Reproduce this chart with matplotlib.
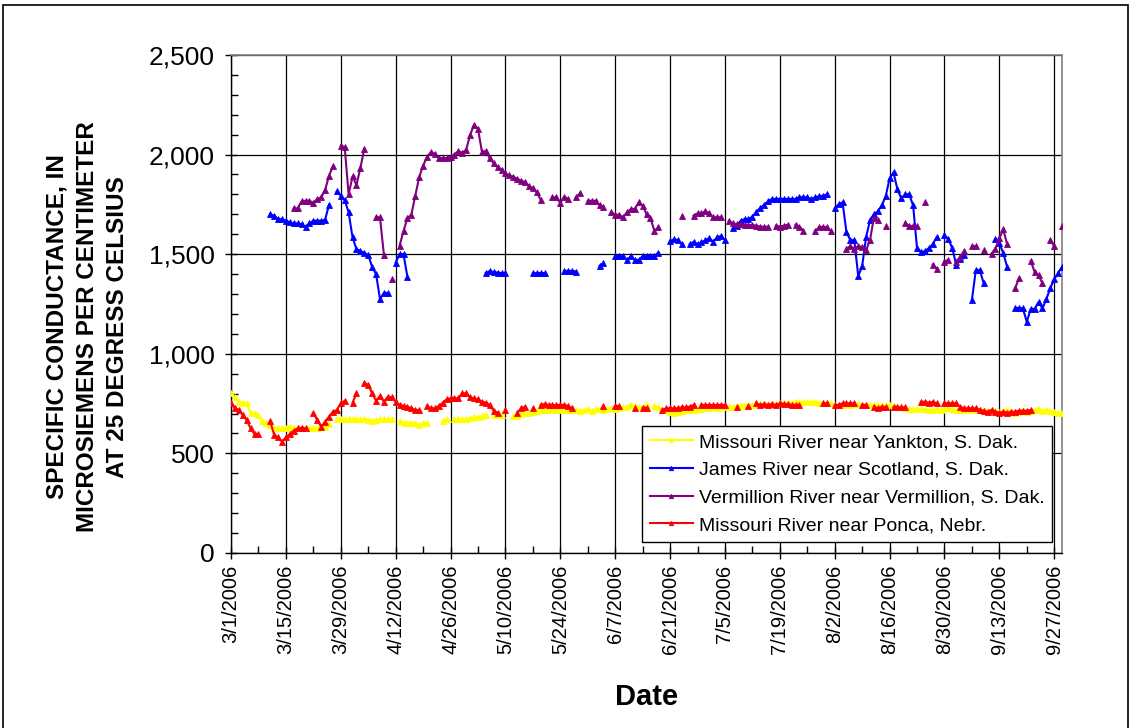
import numpy as np
import pandas as pd
import matplotlib
matplotlib.use("Agg")
import matplotlib.pyplot as plt
from matplotlib.ticker import FuncFormatter, MultipleLocator
from matplotlib.patches import Rectangle

plt.rcParams['font.family'] = ['Liberation Sans', 'DejaVu Sans']

N = None
# Daily specific conductance, 3/1/2006 through 9/29/2006 (one row per week)
yankton = [
    801, 784, 759, 754, 754, 701, 701,
    692, 665, 655, 640, 625, 625, 625,
    625, 634, 629, 625, 625, 625, 625,
    625, 625, 634, 634, 645, N, 671,
    671, 671, 671, 671, 671, 671, 671,
    668, 664, 668, 671, 671, 671, 671,
    N, 662, 654, 654, 654, 651, 642,
    651, 654, N, N, N, 662, 671,
    N, 671, 671, 671, 671, 676, 681,
    681, 687, 692, N, 692, 692, 692,
    N, N, 687, 690, 697, 701, 704,
    709, 714, 718, 718, 718, 718, 718,
    718, 718, 718, 718, 718, 714, 718,
    721, 714, 721, 721, 718, 721, 726,
    721, 726, 731, 734, 743, 738, 734,
    734, 743, N, 738, 731, 718, 718,
    710, 704, 709, 714, 718, 718, 718,
    721, 721, 726, 726, 731, 726, 731,
    734, 734, 734, 738, 738, 743, 743,
    745, 748, 746, 748, 748, 748, 748,
    751, 754, 754, 754, 759, 759, 759,
    759, 759, 759, 754, 754, 754, 751,
    743, 743, 743, 743, 743, 748, 748,
    743, 743, 743, 743, 743, 743, 743,
    743, 738, 734, 731, 726, 724, 721,
    721, 721, 721, 718, 718, 721, 718,
    721, 726, 721, 718, 718, 718, 718,
    721, 718, 718, 718, 714, 714, 714,
    709, 714, 718, 714, 704, 709, 718,
    709, 714, 718, 721, 714, 718, 714,
    709, 705, 701,
]

james = [
    N, N, N, N, N, N, N,
    N, N, N, 1700, 1693, 1676, 1676,
    1668, 1660, 1654, 1654, 1650, 1638, 1654,
    1668, 1668, 1668, 1673, 1748, N, 1815,
    1793, 1772, 1710, 1584, 1525, 1517, 1505,
    1497, 1435, 1400, 1275, 1305, 1305, N,
    1458, 1500, 1500, 1386, N, N, N,
    N, N, N, N, N, N, N,
    N, N, N, N, N, N, N,
    N, N, 1405, 1415, 1410, 1408, 1405,
    1405, N, N, N, N, N, N,
    1405, 1405, 1405, 1405, N, N, N,
    N, 1416, 1416, 1416, 1413, N, N,
    N, N, N, 1441, 1455, N, N,
    1490, 1490, 1490, 1471, 1490, 1471, 1471,
    1490, 1490, 1490, 1490, 1508, N, N,
    1564, 1575, 1570, 1550, N, 1550, 1562,
    1550, 1559, 1570, 1580, 1562, 1584, 1592,
    1570, N, 1629, 1643, 1668, 1676, 1676,
    1688, 1713, 1731, 1748, 1765, 1777, 1777,
    1777, 1777, 1777, 1777, 1777, 1785, 1785,
    1785, 1777, 1785, 1790, 1793, 1800, N,
    1730, 1750, 1760, 1610, 1570, 1570, 1390,
    1440, 1585, 1670, 1700, 1715, 1745, 1790,
    1880, 1910, 1825, 1780, 1800, 1800, 1745,
    1530, 1510, 1515, 1530, 1550, 1585, N,
    1595, 1575, 1530, 1445, 1475, 1495, N,
    1270, 1420, 1420, 1355, N, N, 1575,
    1555, 1505, 1435, N, 1230, 1230, 1228,
    1160, 1225, 1225, 1260, 1228, 1275, 1330,
    1375, 1405, 1437,
]

vermillion = [
    N, N, N, N, N, N, N,
    N, N, N, N, N, N, N,
    N, N, 1730, 1730, 1765, 1768, 1768,
    1757, 1777, 1785, 1822, 1894, 1941, N,
    2045, 2037, 1800, 1890, 1847, 1933, 2029,
    N, N, 1685, 1685, 1497, N, 1377,
    N, 1542, 1617, 1681, 1698, 1794, 1886,
    1945, 1987, 2012, 2003, 1982, 1982, 1982,
    1990, 2000, 2017, 2008, 2025, 2099, 2149,
    2129, 2015, 2017, 1982, 1956, 1936, 1925,
    1905, 1895, 1889, 1878, 1869, 1861, 1840,
    1832, 1810, 1773, N, N, 1785, 1785,
    1757, 1789, 1777, N, 1785, 1805, N,
    1768, 1768, 1768, 1747, 1738, N, 1710,
    1698, 1698, 1685, 1710, 1727, 1727, 1760,
    1743, 1701, 1681, 1617, 1634, N, N,
    N, N, N, 1693, N, N, 1693,
    1705, 1705, 1715, 1705, 1685, 1685, 1685,
    N, 1668, 1654, 1651, 1651, 1646, 1646,
    1646, 1643, 1638, 1638, 1638, N, 1643,
    1638, 1643, 1648, N, 1648, 1638, 1617,
    N, N, 1617, 1634, 1638, 1634, 1617,
    N, N, N, 1528, 1540, 1528, 1540,
    1537, 1520, 1570, 1684, 1671, N, 1641,
    N, N, N, N, 1657, 1641, 1641,
    1641, N, 1760, N, 1448, 1428, N,
    1462, 1473, N, 1462, 1487, 1515, N,
    1540, 1540, N, 1520, N, 1503, 1528,
    1579, 1624, 1549, N, 1328, 1378, N,
    N, 1467, 1410, 1395, 1353, N, 1570,
    1540, N, 1640,
]

ponca = [
    751, 726, 718, 692, 667, 625, 597,
    597, N, N, 662, 592, 580, 559,
    580, 597, 614, 625, 629, 625, N,
    701, 667, 634, 659, 684, 709, 718,
    751, 764, N, 754, 801, N, 855,
    843, 801, 764, 788, 759, 784, 781,
    759, 743, 738, 734, 726, 718, 718,
    N, 738, 726, 726, 738, 754, 771,
    776, 776, 776, 801, 801, 781, 776,
    771, 759, 754, 743, 714, 704, N,
    718, N, N, 704, 726, 734, N,
    726, N, 743, 748, 743, 743, 743,
    743, 743, 738, 726, N, N, N,
    N, N, N, N, 738, N, N,
    738, 738, N, N, N, 726, N,
    729, 729, N, N, N, 718, 726,
    726, 726, 726, 731, 731, 734, 743,
    N, 743, 743, 743, 743, 743, 743,
    743, N, N, 734, N, N, 738,
    N, 751, 743, 748, 743, 748, 743,
    751, 748, 748, 743, 743, 743, N,
    N, N, N, N, 751, 751, N,
    743, 743, 751, 751, 751, 751, N,
    743, 743, N, 734, 726, 734, 731,
    N, 731, 731, 731, 731, N, N,
    N, 759, 759, 754, 759, 751, N,
    751, 751, 751, 751, 734, 726, 726,
    726, 726, 720, 714, 709, 718, 709,
    704, 709, 704, 709, 709, 714, 714,
    714, 718, N, N, N, N, N,
    N, N, N,
]

dates = pd.date_range("2006-03-01", periods=len(yankton), freq="D")

series = [
    ("Missouri River near Yankton, S. Dak.", yankton, "#FFFF00"),
    ("James River near Scotland, S. Dak.", james, "#0000FF"),
    ("Vermillion River near Vermillion, S. Dak.", vermillion, "#800080"),
    ("Missouri River near Ponca, Nebr.", ponca, "#FF0000"),
]

fig = plt.figure(figsize=(11.33, 7.28), dpi=100)
ax = fig.add_axes([0.2039, 0.2404, 0.7335, 0.6841])

for label, vals, color in series:
    y = np.array(vals, dtype=float)
    ax.plot(dates, y, color=color, lw=1.5, marker="^", markersize=4.5,
            markeredgewidth=0.6, label=label, zorder=3)

# Axes limits and ticks
ax.set_ylim(0, 2500)
ax.set_xlim(pd.Timestamp("2006-03-01"), pd.Timestamp("2006-09-29"))
major_dates = pd.date_range("2006-03-01", "2006-09-27", freq="14D")
minor_dates = pd.date_range("2006-03-08", "2006-09-29", freq="14D")
ax.set_xticks(major_dates)
ax.set_xticks(minor_dates, minor=True)
ax.set_xticklabels([f"{d.month}/{d.day}/{d.year}" for d in major_dates],
                   rotation=90, fontsize=14.5)
ax.yaxis.set_major_locator(MultipleLocator(500))
ax.yaxis.set_minor_locator(MultipleLocator(100))
ax.yaxis.set_major_formatter(FuncFormatter(lambda v, p: f"{int(v):,}"))
ax.tick_params(axis="y", which="major", labelsize=19, direction="inout",
               length=9, width=1, pad=7)
ax.tick_params(axis="x", which="major", direction="inout", length=9,
               width=1, pad=4)
ax.tick_params(which="minor", direction="in", length=5, width=1)

ax.grid(True, which="major", axis="both", color="black", lw=0.9)
ax.set_axisbelow(True)

for side in ("top", "right"):
    ax.spines[side].set_color("#808080")
    ax.spines[side].set_linewidth(1.2)
for side in ("left", "bottom"):
    ax.spines[side].set_color("black")
    ax.spines[side].set_linewidth(1.0)

leg = ax.legend(loc="lower right", bbox_to_anchor=(0.988, 0.022),
                fontsize=14, frameon=True, fancybox=False, framealpha=1,
                edgecolor="black", borderpad=0.4, labelspacing=0.52,
                handlelength=2.2, handletextpad=0.3, borderaxespad=0,
                numpoints=1, markerscale=0.7)
leg.get_frame().set_linewidth(1.0)
leg.set_zorder(5)

fig.text(0.077, 0.551,
         "SPECIFIC CONDUCTANCE, IN\nMICROSIEMENS PER CENTIMETER\nAT 25 DEGRESS CELSIUS",
         rotation=90, ha="center", va="center", fontsize=17.5, fontweight="bold",
         linespacing=1.4, multialignment="center")
fig.text(0.571, 0.043, "Date", ha="center", va="center", fontsize=21,
         fontweight="bold")

# Outer frame around the whole chart
fig.patches.append(Rectangle((3 / 1133, -0.01), 1125 / 1133, 1 - 5 / 728 + 0.01,
                             transform=fig.transFigure, fill=False,
                             edgecolor="black", lw=1.2))

fig.savefig("out.png", dpi=100)
